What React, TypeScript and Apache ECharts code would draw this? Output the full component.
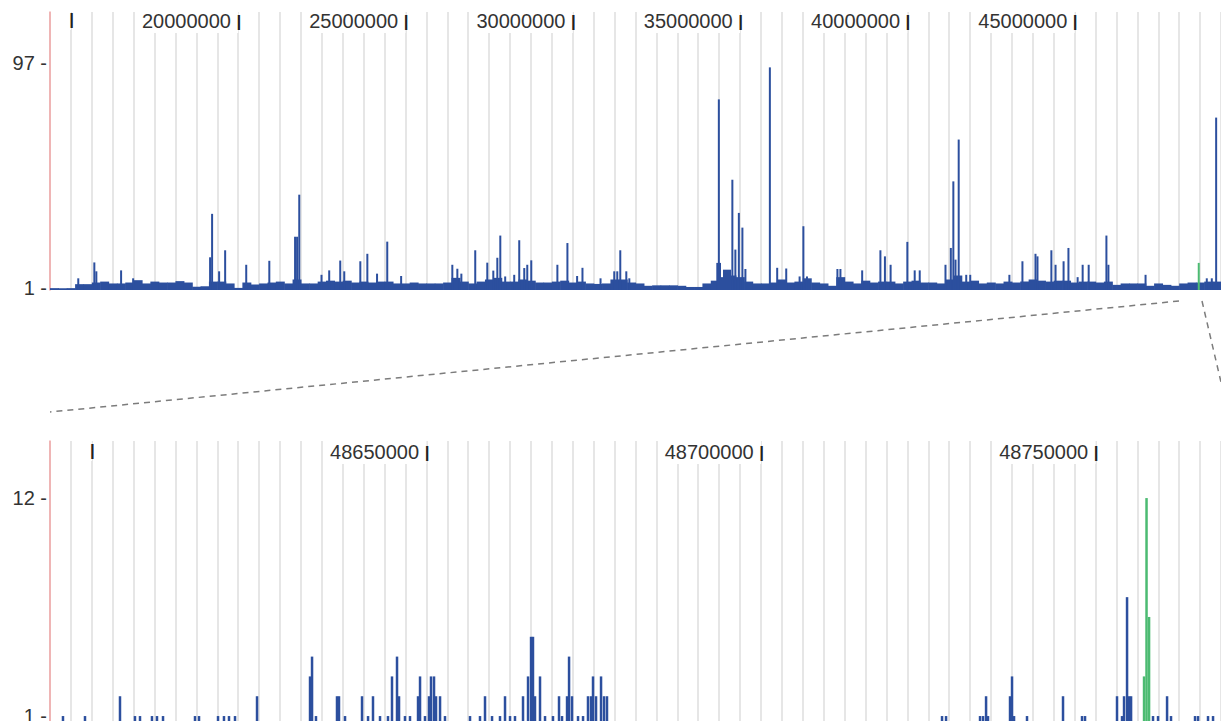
import React, { useEffect, useRef } from 'react';
import * as echarts from 'echarts';

// ---- Overview track (chromosome-wide) ----
const TOP_MIN = 14375000;
const TOP_MAX = 49375000;
const TOP_GRID_STEP = 625000;
const TOP_TICKS = [15000000, 20000000, 25000000, 30000000, 35000000, 40000000, 45000000];
const TOP_TICK_TEXT = ['', '20000000', '25000000', '30000000', '35000000', '40000000', '45000000'];
const TOP_Y_LABELS = [1, 97];

// background coverage, one value per 250 kb bin starting at TOP_MIN
const TOP_BIN_SIZE = 250000;
const topBinValues = [
  0.8, 0.8, 0.8, 2.5, 2.5, 3.2, 3.6, 2.8, 2.8, 3.2,
  4.2, 2.8, 3.6, 3.2, 3.2, 3.8, 3.2, 1.4, 1.6, 3.6,
  3.6, 2.8, 0.9, 3.2, 2.4, 2.8, 3.2, 3.6, 2.8, 4.5,
  2.8, 2.8, 3.6, 4.0, 3.6, 4.0, 3.2, 3.6, 3.2, 3.6,
  3.6, 2.8, 2.8, 3.2, 2.8, 2.8, 2.8, 3.2, 5.2, 3.6,
  2.8, 3.6, 4.5, 5.2, 3.6, 3.6, 4.5, 4.0, 3.2, 3.2,
  3.6, 4.0, 3.2, 3.6, 2.8, 2.6, 2.8, 4.5, 4.5, 3.2,
  2.8, 1.8, 2.0, 2.0, 2.0, 1.8, 1.3, 1.3, 2.8, 4.0,
  5.5, 6.2, 5.5, 3.6, 2.8, 2.8, 3.2, 4.5, 3.2, 3.6,
  5.0, 3.2, 2.8, 1.8, 5.5, 3.6, 2.8, 4.0, 3.2, 3.6,
  3.6, 2.8, 3.6, 4.0, 3.2, 3.2, 2.8, 4.5, 6.2, 3.6,
  4.0, 2.8, 3.2, 2.8, 3.6, 3.2, 3.6, 4.5, 4.0, 3.6,
  4.0, 4.0, 3.2, 3.6, 3.6, 3.2, 3.6, 2.2, 2.8, 2.8,
  2.8, 1.8, 2.8, 2.2, 1.8, 2.8, 3.2, 3.2, 3.6, 3.6,
];

// narrow peaks: [position, value]
const topPeaks: [number, number][] = [
  [15220000, 5], [15700000, 11.8], [15760000, 8], [16500000, 8.4], [16860000, 5],
  [19160000, 14], [19220000, 32.6], [19430000, 8], [19610000, 17], [20240000, 10.8],
  [20930000, 12.5], [21700000, 22.8], [21760000, 22.8], [21825000, 40.8], [22490000, 6.5],
  [22720000, 8.4], [23050000, 12.6], [23170000, 8], [23650000, 12.3], [23860000, 15.5],
  [24150000, 7], [24455000, 20.7], [24870000, 6], [26400000, 10.8], [26550000, 9.1],
  [26670000, 7], [27085000, 17], [27445000, 11.7], [27625000, 8.3], [27745000, 13.8],
  [27834000, 23.3], [27980000, 5.8], [28250000, 6.5], [28400000, 21.3], [28550000, 9.4],
  [28640000, 10.8], [28760000, 12.7], [29540000, 10.8], [29840000, 20.1], [30130000, 6],
  [30290000, 9.5], [30830000, 5], [31240000, 8], [31330000, 8], [31420000, 17],
  [31600000, 8], [31690000, 5], [34320000, 11.6], [34366000, 81.6], [34400000, 11.6],
  [34520000, 8.7], [34580000, 8.7], [34640000, 8.7], [34700000, 8.7], [34770000, 47.2],
  [34860000, 17.3], [34964000, 33], [35070000, 26.7], [35160000, 9], [35891000, 95.3],
  [36110000, 9.5], [36380000, 9.2], [36780000, 5.8], [36893000, 27.3], [37000000, 5.8],
  [37910000, 9], [38000000, 9], [38650000, 8.4], [39195000, 17], [39330000, 14.4],
  [39500000, 10.8], [40000000, 20.6], [40220000, 8.4], [40370000, 8.4], [41140000, 10.8],
  [41300000, 18], [41375000, 46.5], [41440000, 13], [41535000, 64.4], [41760000, 6.5],
  [41880000, 6.5], [43050000, 6.5], [43440000, 12.3], [43830000, 15.5], [43890000, 14.4],
  [44305000, 17], [44430000, 10.8], [44670000, 12.3], [44815000, 18], [45090000, 5.5],
  [45240000, 10.8], [45420000, 10.8], [45950000, 23.3], [46010000, 10.8], [47120000, 6.5],
  [48950000, 5], [49100000, 5], [49230000, 73.8],
];
const topHighlight: [number, number][] = [[48710000, 11.6]];

// ---- Detail track (zoomed window) ----
const LOW_MIN = 48593750;
const LOW_MAX = 48768750;
const LOW_GRID_STEP = 3125;
const LOW_TICKS = [48600000, 48650000, 48700000, 48750000];
const LOW_TICK_TEXT = ['', '48650000', '48700000', '48750000'];
const LOW_Y_LABELS = [1, 12];

const lowReads: [number, number][] = [
  [48595690, 1], [48598980, 1], [48604210, 2], [48606450, 1], [48607200, 1], [48608990, 1],
  [48609740, 1], [48610640, 1], [48615420, 1], [48616020, 1], [48618860, 1], [48619750, 1],
  [48620500, 1], [48621400, 1], [48624690, 2], [48632610, 3], [48632910, 4], [48633500, 1],
  [48636640, 2], [48636940, 2], [48637840, 1], [48640380, 2], [48641280, 1], [48642020, 2],
  [48643070, 1], [48644260, 1], [48644860, 3], [48645610, 4], [48645910, 2], [48646800, 1],
  [48647550, 1], [48648750, 2], [48649050, 3], [48649790, 1], [48650390, 2], [48650690, 3],
  [48651140, 3], [48651440, 2], [48652040, 2], [48652780, 1], [48656520, 1], [48658010, 1],
  [48658760, 2], [48659810, 1], [48661000, 1], [48661750, 2], [48662500, 1], [48663240, 1],
  [48664440, 2], [48665190, 3], [48665640, 5], [48665930, 5], [48666230, 2], [48666980, 3],
  [48667730, 1], [48668920, 1], [48669820, 2], [48670270, 1], [48671020, 2], [48671320, 4],
  [48671760, 2], [48672660, 1], [48673410, 1], [48674150, 2], [48674600, 2], [48674900, 3],
  [48675350, 2], [48676100, 3], [48676550, 2], [48676990, 2], [48727060, 1], [48727660, 1],
  [48732740, 1], [48733190, 1], [48733640, 2], [48733930, 1], [48737220, 2], [48737520, 3],
  [48737820, 1], [48739760, 1], [48745140, 2], [48747980, 1], [48748430, 1], [48753210, 2],
  [48753960, 1], [48754260, 2], [48754710, 7], [48755010, 2], [48755310, 2], [48758590, 1],
  [48759340, 1], [48760690, 2], [48761280, 1], [48764870, 1], [48765320, 1], [48766810, 1],
  [48767560, 1],
];
const lowHighlight: [number, number][] = [[48757250, 3], [48757620, 12], [48758000, 6]];

const BLUE = '#2c4f9e';
const GREEN = '#4cbb72';
const FONT = '"Liberation Sans", Arial, Helvetica, sans-serif';

const binRenderer = (base: number, color: string) => (_p: any, api: any) => {
  const a = api.coord([api.value(0), api.value(2)]);
  const b = api.coord([api.value(1), base]);
  return {
    type: 'rect',
    shape: { x: a[0], y: a[1], width: b[0] - a[0] + 0.6, height: b[1] - a[1] },
    style: { fill: color },
  };
};

const spikeRenderer = (base: number, color: string, w: number) => (_p: any, api: any) => {
  const t = api.coord([api.value(0), api.value(1)]);
  const b = api.coord([api.value(0), base]);
  return {
    type: 'rect',
    shape: { x: t[0] - w / 2, y: t[1], width: w, height: b[1] - t[1] },
    style: { fill: color },
  };
};

const tickFormatter = (ticks: number[], texts: string[]) => (v: number) => {
  const i = ticks.indexOf(Math.round(v));
  if (i < 0) return '';
  return texts[i] ? `{n|${texts[i]}} {t||}` : '{t||}';
};

const xAxisFor = (
  gridIndex: number, min: number, max: number, step: number,
  ticks: number[], texts: string[], labelMargin: number,
) => ({
  type: 'value',
  gridIndex,
  position: 'top',
  min,
  max,
  interval: step,
  axisLine: { show: false },
  axisTick: { show: false },
  splitLine: { show: true, lineStyle: { color: '#dedede', width: 1.5 } },
  axisLabel: {
    inside: true,
    margin: labelMargin,
    align: 'right',
    color: '#333',
    fontFamily: FONT,
    fontSize: 20,
    backgroundColor: '#fff',
    padding: [1, -3, 2, 3],
    formatter: tickFormatter(ticks, texts),
    rich: {
      n: { fontSize: 20, fontFamily: FONT, color: '#333' },
      t: { fontSize: 17, fontFamily: FONT, color: '#222', fontWeight: 'bold' },
    },
  },
});

const yAxisFor = (gridIndex: number, min: number, max: number, labels: number[]) => ({
  type: 'value',
  gridIndex,
  min,
  max,
  axisLine: { show: true, lineStyle: { color: '#f2a5a5', width: 1.5 } },
  axisTick: { show: false },
  splitLine: { show: false },
  axisLabel: {
    customValues: labels,
    margin: 3,
    color: '#333',
    fontFamily: FONT,
    fontSize: 20,
    formatter: (v: number) => `${v} -`,
  },
});

export default function App() {
  const ref = useRef<HTMLDivElement>(null);

  useEffect(() => {
    if (!ref.current) return;
    const chart = echarts.init(ref.current, undefined, { renderer: 'svg' });

    const topBins = topBinValues.map((v, i) => [
      TOP_MIN + i * TOP_BIN_SIZE,
      TOP_MIN + (i + 1) * TOP_BIN_SIZE,
      v,
    ]);

    const dashed = { stroke: '#7c7c7c', lineWidth: 1.5, lineDash: [6, 5] };

    chart.setOption({
      animation: false,
      backgroundColor: '#fff',
      grid: [
        { left: 50, right: 0, top: 12, height: 278, containLabel: false, outerBoundsMode: 'none' },
        { left: 50, right: 0, top: 441, height: 280, containLabel: false, outerBoundsMode: 'none' },
      ],
      xAxis: [
        xAxisFor(0, TOP_MIN, TOP_MAX, TOP_GRID_STEP, TOP_TICKS, TOP_TICK_TEXT, -2),
        xAxisFor(1, LOW_MIN, LOW_MAX, LOW_GRID_STEP, LOW_TICKS, LOW_TICK_TEXT, 0),
      ],
      yAxis: [yAxisFor(0, 0, 119, TOP_Y_LABELS), yAxisFor(1, 0.75, 14.88, LOW_Y_LABELS)],
      series: [
        {
          type: 'custom', name: 'coverage', xAxisIndex: 0, yAxisIndex: 0,
          data: topBins, encode: { x: [0, 1], y: 2 }, renderItem: binRenderer(0, BLUE), silent: true,
        },
        {
          type: 'custom', name: 'peaks', xAxisIndex: 0, yAxisIndex: 0,
          data: topPeaks, encode: { x: 0, y: 1 }, renderItem: spikeRenderer(0, BLUE, 2), silent: true,
        },
        {
          type: 'custom', name: 'selected', xAxisIndex: 0, yAxisIndex: 0,
          data: topHighlight, encode: { x: 0, y: 1 }, renderItem: spikeRenderer(0, GREEN, 2), silent: true,
        },
        {
          type: 'custom', name: 'reads', xAxisIndex: 1, yAxisIndex: 1,
          data: lowReads, encode: { x: 0, y: 1 }, renderItem: spikeRenderer(0.75, BLUE, 2.5), silent: true,
        },
        {
          type: 'custom', name: 'selected reads', xAxisIndex: 1, yAxisIndex: 1,
          data: lowHighlight, encode: { x: 0, y: 1 }, renderItem: spikeRenderer(0.75, GREEN, 2.5), silent: true,
        },
      ],
      graphic: [
        { type: 'line', silent: true, shape: { x1: 1179, y1: 301, x2: 50, y2: 412 }, style: dashed },
        { type: 'line', silent: true, shape: { x1: 1202, y1: 301, x2: 1228, y2: 412 }, style: dashed },
      ],
    });

    return () => chart.dispose();
  }, []);

  return (
    <div
      ref={ref}
      style={{ position: 'fixed', left: 0, top: 0, width: 1221, height: 721, background: '#fff' }}
    />
  );
}
